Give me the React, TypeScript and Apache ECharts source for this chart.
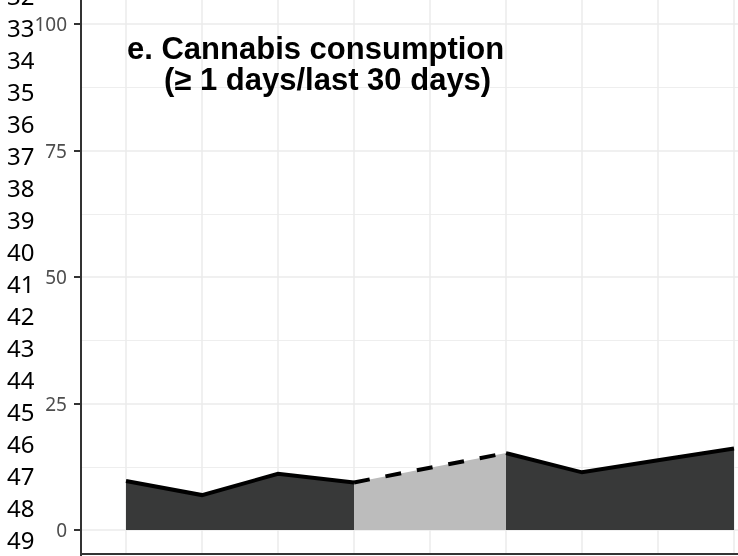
import React, { useEffect, useRef } from "react";
import * as echarts from "echarts";

// ---- data ----
const waveIndex = [0, 1, 2, 3, 5, 6, 7, 8];
const prevalence = [9.7, 6.9, 11.1, 9.4, 15.2, 11.4, 13.8, 16.1];
const gapStart = 3; // last observed point before the missing wave
const gapEnd = 4; // first observed point after the missing wave
const yTickValues = [0, 25, 50, 75, 100];
const lineNumbers = ["32", "33", "34", "35", "36", "37", "38", "39", "40", "41", "42", "43", "44", "45", "46", "47", "48", "49"];
const titleLines = ["e. Cannabis consumption", "(≥ 1 days/last 30 days)"];

const pts = waveIndex.map((x, i) => [x, prevalence[i]]);
const seg1 = pts.slice(0, gapStart + 1);
const segGap = pts.slice(gapStart, gapEnd + 1);
const seg2 = pts.slice(gapEnd);

const DARK = "#383939";
const GREY = "#bcbcbc";

export default function App() {
  const ref = useRef<HTMLDivElement>(null);
  useEffect(() => {
    document.body.style.margin = "0";
    const chart = echarts.init(ref.current!, undefined, { renderer: "svg" });

    const seamLines = (seg: number[][]) =>
      seg
        .filter((_, i) => i > 0 && i < seg.length - 1)
        .map((p) => [{ coord: [p[0], 0] }, { coord: [p[0], p[1]] }]);

    const areaSeries = (seg: number[][], fill: string, dashed: boolean, seams: boolean) => ({
      type: "line",
      xAxisIndex: 0,
      yAxisIndex: 0,
      data: seg,
      showSymbol: false,
      symbol: "none",
      z: 3,
      lineStyle: { color: "#000", width: 4, type: dashed ? [16, 16] : "solid", cap: "butt", join: "miter" },
      areaStyle: { color: fill, opacity: 1, origin: 0 },
      markLine: seams
        ? {
            silent: true,
            symbol: ["none", "none"],
            label: { show: false },
            lineStyle: { color: "#2a2b2b", width: 1.2, type: "solid" },
            data: seamLines(seg),
            z: 3,
          }
        : undefined,
    });

    const option: any = {
      animation: false,
      grid: [
        { left: 81, right: 0, top: -102.5, bottom: -100.5, containLabel: false, outerBoundsMode: "none" },
        { left: 126, right: 4, top: 0, bottom: 2, containLabel: false, outerBoundsMode: "none" },
      ],
      xAxis: [
        {
          type: "value",
          gridIndex: 0,
          min: -45 / 76,
          max: 612 / 76,
          axisLine: { show: false, onZero: false },
          axisTick: { show: false },
          axisLabel: { show: false },
          splitLine: { show: false },
        },
        {
          type: "value",
          gridIndex: 1,
          min: 0,
          max: 8,
          interval: 1,
          axisLine: { show: false, onZero: false },
          axisTick: { show: false },
          axisLabel: { show: false },
          splitLine: { show: true, lineStyle: { color: "#ebebeb", width: 1.5 } },
        },
      ],
      yAxis: [
        {
          type: "value",
          gridIndex: 0,
          min: -25,
          max: 125,
          interval: 25,
          axisLine: { show: true, onZero: false, lineStyle: { color: "#333333", width: 2 } },
          axisTick: { show: true, length: 7, lineStyle: { color: "#333333", width: 2 } },
          axisLabel: {
            show: true,
            margin: 14,
            color: "#4d4d4d",
            fontSize: 19,
            fontFamily: "Noto Sans",
            formatter: (v: number) => (yTickValues.indexOf(v) >= 0 ? String(v) : ""),
          },
          splitLine: { show: true, lineStyle: { color: "#ebebeb", width: 1.5 } },
          minorTick: { show: false, splitNumber: 2 },
          minorSplitLine: { show: true, lineStyle: { color: "#eeeeee", width: 1 } },
        },
        { type: "value", gridIndex: 1, show: false, min: 0, max: 1 },
      ],
      series: [
        areaSeries(seg1, DARK, false, true),
        areaSeries(segGap, GREY, true, false),
        areaSeries(seg2, DARK, false, true),
      ],
      graphic: [
        {
          type: "line",
          shape: { x1: 81, y1: 554, x2: 738, y2: 554 },
          style: { stroke: "#333333", lineWidth: 2 },
          z: 10,
        },
        {
          type: "text",
          x: 127,
          y: 32.5,
          style: {
            text: `{a|${titleLines[0]}}\n{b|${titleLines[1]}}`,
            fill: "#000",
            textAlign: "left",
            textVerticalAlign: "top",
            rich: {
              a: { font: "bold 31px 'Liberation Sans', Arial, sans-serif", lineHeight: 31.5, fill: "#000" },
              b: {
                font: "bold 31px 'Liberation Sans', Arial, sans-serif",
                lineHeight: 31.5,
                fill: "#000",
                padding: [0, 0, 0, 37],
              },
            },
          },
          z: 20,
        },
        ...lineNumbers.map((n, i) => ({
          type: "text",
          x: 7,
          y: -5 + 32 * i,
          style: {
            text: n,
            fill: "#000",
            font: "24px 'Noto Sans', sans-serif",
            textAlign: "left",
            textVerticalAlign: "middle",
          },
          z: 20,
        })),
      ],
    };
    chart.setOption(option);
    return () => chart.dispose();
  }, []);
  return <div ref={ref} style={{ position: "fixed", left: 0, top: 0, width: 738, height: 556 }} />;
}
